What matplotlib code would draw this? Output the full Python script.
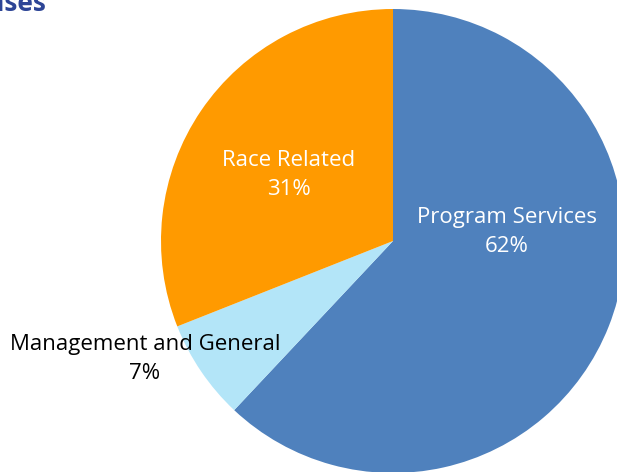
import matplotlib
matplotlib.use("Agg")
import matplotlib.pyplot as plt

categories = ["Program Services", "Management and General", "Race Related"]
values = [62, 7, 31]
colors = ["#4F81BD", "#B3E5F8", "#FF9A00"]
label_colors = ["white", "black", "white"]
title = "Expenses"

plt.rcParams['font.family'] = ['Open Sans', 'DejaVu Sans']

W, H = 617, 472
fig = plt.figure(figsize=(W / 100, H / 100), dpi=100)
ax = fig.add_axes([0, 0, 1, 1])

cx, cy, r = 393, H - 241, 232
wedges, _ = ax.pie(values, colors=colors, startangle=90, counterclock=False,
                   center=(cx, cy), radius=r, frame=True,
                   wedgeprops=dict(linewidth=0))
ax.set_xlim(0, W)
ax.set_ylim(0, H)
ax.set_aspect('equal')
ax.axis('off')

label_pos = [(507, H - 232), (145, H - 359), (289, H - 175)]
for cat, v, (x, y), c in zip(categories, values, label_pos, label_colors):
    ax.text(x, y, f"{cat}\n{v}%", ha='center', va='center', color=c,
            fontsize=16, linespacing=1.5)

ax.text(47, H - 11, title, ha='right', va='baseline', color='#2D4596',
        fontsize=19, fontweight='bold')

fig.savefig("out.png", dpi=100)
